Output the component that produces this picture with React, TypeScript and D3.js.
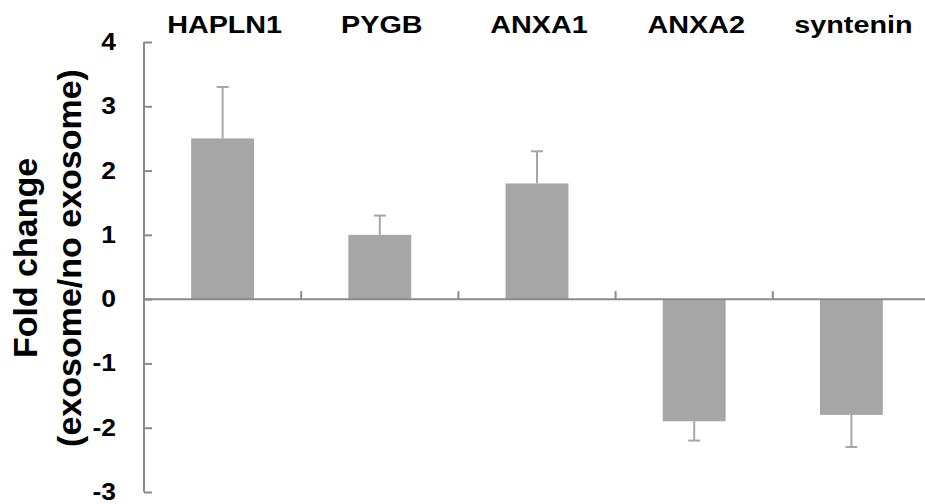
import React, { useEffect, useRef } from "react";
import * as d3 from "d3";

const genes = ["HAPLN1", "PYGB", "ANXA1", "ANXA2", "syntenin"];
const foldChange = [2.5, 1.0, 1.8, -1.9, -1.8];
const errors = [0.8, 0.3, 0.5, 0.3, 0.5];
const yTicks = [4, 3, 2, 1, 0, -1, -2, -3];

const App: React.FC = () => {
  const svgRef = useRef<SVGSVGElement | null>(null);

  useEffect(() => {
    d3.select(svgRef.current).selectAll("*").remove();
    const svg = d3.select(svgRef.current);

    const font = "'Liberation Sans', Arial, sans-serif";
    const axisColor = "#8a8a8a";
    const barColor = "#a6a6a6";

    const xScale = d3
      .scaleBand()
      .domain(genes)
      .range([144, 930])
      .paddingInner(0.6)
      .paddingOuter(0.3);
    const yScale = d3.scaleLinear().domain([-3, 4]).range([492, 42]);

    const data = genes.map((g, i) => ({ name: g, value: foldChange[i], err: errors[i] }));

    // bars
    svg
      .selectAll(".bar")
      .data(data)
      .enter()
      .append("rect")
      .attr("class", "bar")
      .attr("x", (d) => xScale(d.name) || 0)
      .attr("width", xScale.bandwidth())
      .attr("y", (d) => yScale(Math.max(0, d.value)))
      .attr("height", (d) => Math.abs(yScale(d.value) - yScale(0)))
      .attr("fill", barColor);

    // error bars (one-sided)
    const errG = svg.append("g").attr("stroke", barColor).attr("stroke-width", 2);
    data.forEach((d) => {
      const cx = (xScale(d.name) || 0) + xScale.bandwidth() / 2;
      const end = d.value >= 0 ? d.value + d.err : d.value - d.err;
      errG
        .append("line")
        .attr("x1", cx)
        .attr("x2", cx)
        .attr("y1", yScale(d.value))
        .attr("y2", yScale(end));
      errG
        .append("line")
        .attr("x1", cx - 6)
        .attr("x2", cx + 6)
        .attr("y1", yScale(end))
        .attr("y2", yScale(end));
    });

    // y axis
    const yAxis = svg
      .append("g")
      .attr("transform", "translate(144,0)")
      .call(d3.axisRight(yScale).tickValues(yTicks).tickSize(8).tickFormat(() => ""));
    yAxis.select(".domain").attr("stroke", axisColor).attr("stroke-width", 2).attr("d", "M0,42V492");
    yAxis.selectAll(".tick line").attr("stroke", axisColor).attr("stroke-width", 2);

    svg
      .append("g")
      .selectAll("text")
      .data(yTicks)
      .enter()
      .append("text")
      .attr("transform", (d) => `translate(116,${yScale(d)}) scale(1.15,1)`)
      .attr("dy", "0.35em")
      .attr("text-anchor", "end")
      .style("font-family", font)
      .style("font-weight", "bold")
      .style("font-size", "23px")
      .text((d) => d);

    // x axis at zero with ticks between categories
    const xg = svg.append("g").attr("stroke", axisColor).attr("stroke-width", 2);
    xg.append("line")
      .attr("x1", 144)
      .attr("x2", 925)
      .attr("y1", yScale(0))
      .attr("y2", yScale(0));
    const step = xScale.step();
    genes.slice(1).forEach((g) => {
      const bx = (xScale(g) || 0) - (step - xScale.bandwidth()) / 2;
      xg.append("line")
        .attr("x1", bx)
        .attr("x2", bx)
        .attr("y1", yScale(0))
        .attr("y2", yScale(0) - 8);
    });

    // category labels on top
    svg
      .append("g")
      .selectAll("text")
      .data(genes)
      .enter()
      .append("text")
      .attr(
        "transform",
        (d) => `translate(${(xScale(d) || 0) + xScale.bandwidth() / 2 + 2},33) scale(1.25,1)`
      )
      .attr("text-anchor", "middle")
      .style("font-family", font)
      .style("font-weight", "bold")
      .style("font-size", "23px")
      .text((d) => d);

    // y title
    const title = svg
      .append("text")
      .attr("transform", "translate(0,258) rotate(-90)")
      .attr("text-anchor", "middle")
      .style("font-family", font)
      .style("font-weight", "bold")
      .style("font-size", "34px");
    title.append("tspan").attr("x", 0).attr("y", 37).text("Fold change");
    title.append("tspan").attr("x", 0).attr("y", 81).text("(exosome/no exosome)");
  }, []);

  return (
    <svg
      ref={svgRef}
      width={925}
      height={504}
      style={{ position: "absolute", left: 0, top: 0, background: "#fff" }}
    ></svg>
  );
};

export default App;
